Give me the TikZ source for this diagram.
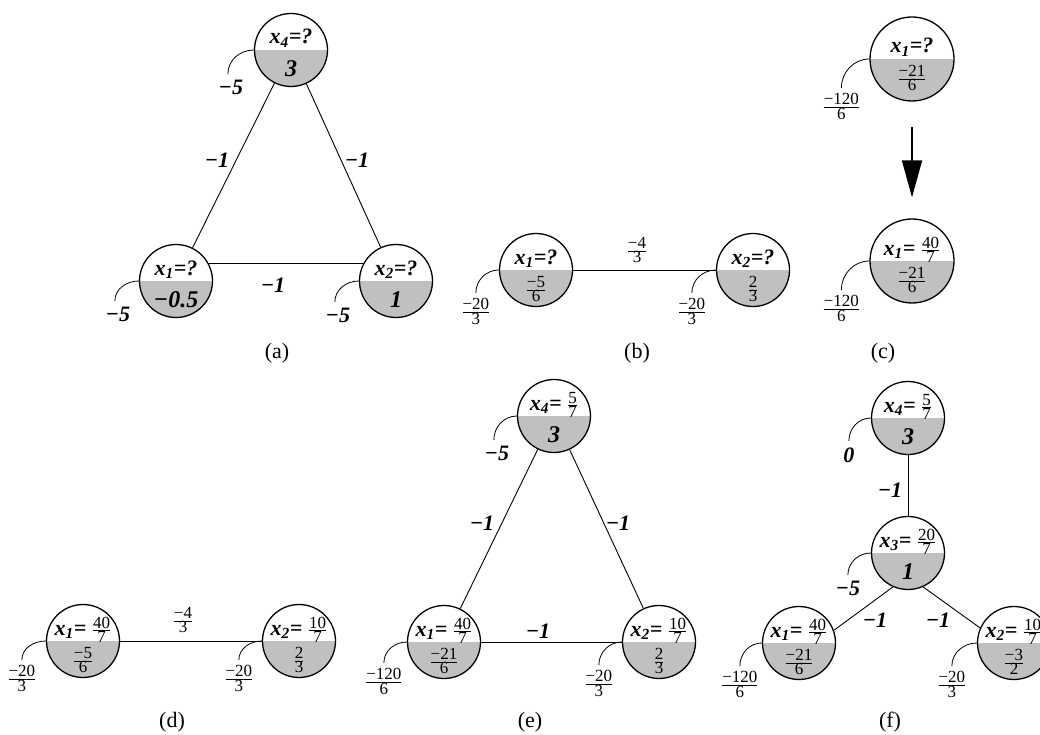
\documentclass[tikz,border=0pt]{standalone}
\usepackage{fontspec}
\setmainfont{Liberation Serif}
\usetikzlibrary{arrows.meta}
\definecolor{halfgray}{HTML}{C0C0C0}

\newcommand{\frfont}{\normalfont\fontsize{17}{18}\selectfont}
\newcommand{\fr}[2]{{\frfont$\frac{\mbox{#1}}{\mbox{#2}}$}}
% circle with label in the white half and value in the grey half
\newcommand{\vnode}[5][varnode]{%
  \node[#1] (#2) at (#3) {};
  \node[toplab] (#2t) at ([yshift=6pt]#2.center) {#4};
  \node[botlab] (#2b) at ([yshift=-19pt]#2.center) {#5};}

\tikzset{
  varnode/.style={circle,draw,line width=1.3pt,minimum size=73pt,inner sep=0pt,
    path picture={\fill[halfgray] (path picture bounding box.west) rectangle (path picture bounding box.south east);}},
  bigvar/.style={varnode,minimum size=84pt},
  toplab/.style={anchor=base,inner sep=0pt,font=\fontsize{22}{23}\selectfont\bfseries\itshape},
  botlab/.style={inner sep=0pt,font=\fontsize{24}{25}\selectfont\bfseries\itshape},
  wt/.style={inner sep=1pt,font=\fontsize{22}{23}\selectfont\bfseries\itshape},
  frlab/.style={inner sep=1pt,font=\frfont},
  selfarc/.style={line width=0.8pt},
  link/.style={line width=0.9pt},
  bigarrow/.style={line width=1.8pt,-{Triangle[width=20pt,length=37pt]},shorten <=25pt,shorten >=21pt},
  subcap/.style={font=\fontsize{22}{23}\selectfont}
}

\begin{document}
\begin{tikzpicture}[x=1pt,y=-1pt]
\useasboundingbox (0,0) rectangle (1040,735);

% (a)
\vnode{a4}{291,50}{x\textsubscript{4}=?}{3}
\vnode{a1}{176,281}{x\textsubscript{1}=?}{−0.5}
\vnode{a2}{396,281}{x\textsubscript{2}=?}{1}
\draw[link] (a4) -- (a1);
\draw[link] (a4) -- (a2);
\draw[link] (a1.29) -- (a2.151);
\node[wt] (a41) at (217,160) {−1};
\node[wt] (a42) at (357,160) {−1};
\node[wt] (a12) at (273,285) {−1};
\draw[selfarc] (a4.west) to[out=180,in=90] ++(-26,24) node[wt,below=5pt,xshift=3pt] (a4s) {−5};
\draw[selfarc] (a1.west) to[out=180,in=90] ++(-24,20) node[wt,below=5pt,xshift=3pt] (a1s) {−5};
\draw[selfarc] (a2.west) to[out=180,in=90] ++(-24,21) node[wt,below=5pt,xshift=3pt] (a2s) {−5};
\node[subcap] (capa) at (277,353) {(a)};

% (b)
\vnode{b1}{536,270}{x\textsubscript{1}=?}{\fr{−5}{6}}
\vnode{b2}{753,270}{x\textsubscript{2}=?}{\fr{2}{3}}
\draw[link] (b1.east) -- (b2.west);
\node[frlab] (b12) at (637,250) {\fr{−4}{3}};
\draw[selfarc] (b1.west) to[out=180,in=90] ++(-23,23) node[frlab,below=4pt] (b1s) {\fr{−20}{3}};
\draw[selfarc] (b2.west) to[out=180,in=90] ++(-24,23) node[frlab,below=4pt] (b2s) {\fr{−20}{3}};
\node[subcap] (capb) at (637,353) {(b)};

% (c)
\vnode[bigvar]{c1}{912,59}{x\textsubscript{1}=?}{\fr{−21}{6}}
\vnode[bigvar]{c2}{912,261}{x\textsubscript{1}= \fr{40}{7}}{\fr{−21}{6}}
\draw[bigarrow] (c1) -- (c2);
\draw[selfarc] (c1.west) to[out=180,in=90] ++(-28,29) node[frlab,below=4pt] (c1s) {\fr{−120}{6}};
\draw[selfarc] (c2.west) to[out=180,in=90] ++(-28,29) node[frlab,below=4pt] (c2s) {\fr{−120}{6}};
\node[subcap] (capc) at (883,353) {(c)};

% (d)
\vnode{d1}{83,641}{x\textsubscript{1}= \fr{40}{7}}{\fr{−5}{6}}
\vnode{d2}{299,641}{x\textsubscript{2}= \fr{10}{7}}{\fr{2}{3}}
\draw[link] (d1.east) -- (d2.west);
\node[frlab] (d12) at (183,620) {\fr{−4}{3}};
\draw[selfarc] (d1.west) to[out=180,in=90] ++(-24,19) node[frlab,below=4pt] (d1s) {\fr{−20}{3}};
\draw[selfarc] (d2.west) to[out=180,in=90] ++(-23,19) node[frlab,below=4pt] (d2s) {\fr{−20}{3}};
\node[subcap] (capd) at (172,722) {(d)};

% (e)
\vnode{e4}{554,416}{x\textsubscript{4}= \fr{5}{7}}{3}
\vnode{e1}{444,642}{x\textsubscript{1}= \fr{40}{7}}{\fr{−21}{6}}
\vnode{e2}{659,642}{x\textsubscript{2}= \fr{10}{7}}{\fr{2}{3}}
\draw[link] (e4) -- (e1);
\draw[link] (e4) -- (e2);
\draw[link] (e1.east) -- (e2.west);
\node[wt] (e41) at (482,523) {−1};
\node[wt] (e42) at (618,523) {−1};
\node[wt] (e12) at (538,631) {−1};
\draw[selfarc] (e4.west) to[out=180,in=90] ++(-23,24) node[wt,below=5pt,xshift=3pt] (e4s) {−5};
\draw[selfarc] (e1.west) to[out=180,in=90] ++(-23,21) node[frlab,below=4pt] (e1s) {\fr{−120}{6}};
\draw[selfarc] (e2.west) to[out=180,in=90] ++(-23,23) node[frlab,below=4pt] (e2s) {\fr{−20}{3}};
\node[subcap] (cape) at (530,722) {(e)};

% (f)
\vnode{f4}{908,418}{x\textsubscript{4}= \fr{5}{7}}{3}
\vnode{f3}{908,553}{x\textsubscript{3}= \fr{20}{7}}{1}
\vnode{f1}{799,643}{x\textsubscript{1}= \fr{40}{7}}{\fr{−21}{6}}
\vnode{f2}{1014,643}{x\textsubscript{2}= \fr{10}{7}}{\fr{−3}{2}}
\draw[link] (f4) -- (f3);
\draw[link] (f3.246) -- (f1.20);
\draw[link] (f3.294) -- (f2.156);
\node[wt] (f43) at (890,490) {−1};
\node[wt] (f31) at (875,620) {−1};
\node[wt] (f32) at (938,620) {−1};
\draw[selfarc] (f4.west) to[out=180,in=90] ++(-22,23) node[wt,below=5pt] (f4s) {0};
\draw[selfarc] (f3.west) to[out=180,in=90] ++(-23,22) node[wt,below=5pt] (f3s) {−5};
\draw[selfarc] (f1.west) to[out=180,in=90] ++(-22,23) node[frlab,below=4pt] (f1s) {\fr{−120}{6}};
\draw[selfarc] (f2.west) to[out=180,in=90] ++(-25,23) node[frlab,below=4pt] (f2s) {\fr{−20}{3}};
\node[subcap] (capf) at (890,722) {(f)};
\end{tikzpicture}
\end{document}
